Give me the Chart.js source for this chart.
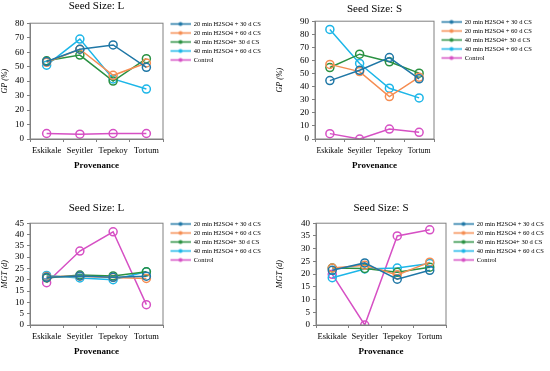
<!DOCTYPE html>
<html>
<head>
<meta charset="utf-8">
<script src="https://cdn.jsdelivr.net/npm/chart.js@4/dist/chart.umd.min.js"></script>
<style>
  body { margin: 0; background: #fff; width: 550px; height: 371px; position: relative; overflow: hidden; }
  canvas { position: absolute; }
</style>
</head>
<body>
<canvas id="gpL" width="275" height="185" style="left:0;top:0"></canvas>
<canvas id="gpS" width="275" height="185" style="left:275px;top:0"></canvas>
<canvas id="mgtL" width="275" height="186" style="left:0;top:185px"></canvas>
<canvas id="mgtS" width="275" height="186" style="left:275px;top:185px"></canvas>
<script>
const provenances = ['Eskikale', 'Seyitler', 'Tepekoy', 'Tortum'];
const treatments = ['20 min H2SO4 + 30 d CS', '20 min H2SO4 + 60 d CS', '40 min H2SO4+ 30 d CS', '40 min H2SO4 + 60 d CS', 'Control'];
const colors = ['#1f77a6', '#f58d52', '#2a9142', '#1cb6e8', '#d650c4'];

// GP (%), seed size L
const gpL_20_30 = [53.5, 62, 65, 49.5];
const gpL_20_60 = [53, 62, 44, 52.5];
const gpL_40_30 = [54, 58, 40, 55.5];
const gpL_40_60 = [51, 69, 41.5, 34.5];
const gpL_ctrl = [3.8, 3.3, 3.8, 3.8];

// GP (%), seed size S
const gpS_20_30 = [44.6, 52.5, 62.2, 46];
const gpS_20_60 = [57, 51.5, 32.4, 47.2];
const gpS_40_30 = [54.6, 64.8, 59, 50.3];
const gpS_40_60 = [83.7, 57.7, 38.8, 31.4];
const gpS_ctrl = [4.1, 0, 7.6, 5.1];

// MGT (d), seed size L
const mgtL_20_30 = [21.1, 21.7, 21.1, 21.6];
const mgtL_20_60 = [21.4, 21.6, 21, 20.6];
const mgtL_40_30 = [20.8, 22.1, 21.7, 23.5];
const mgtL_40_60 = [21.9, 20.8, 20, 23.5];
const mgtL_ctrl = [18.7, 32.7, 41.2, 9];

// MGT (d), seed size S
const mgtS_20_30 = [21.5, 24.4, 18, 21.5];
const mgtS_20_60 = [22.4, 23.5, 19.7, 24.7];
const mgtS_40_30 = [22.4, 22.2, 20.7, 22.7];
const mgtS_40_60 = [18.6, 22, 22.4, 24.2];
const mgtS_ctrl = [19.9, 0, 35, 37.4];

const serif = "'Liberation Serif', 'DejaVu Serif', serif";
const axisGray = '#808080';

function legendMark(color) {
    const c = document.createElement('canvas');
    c.width = 25; c.height = 7;
    const g = c.getContext('2d');
    g.strokeStyle = color; g.lineWidth = 1.5;
    g.beginPath(); g.moveTo(5, 3.5); g.lineTo(25, 3.5); g.stroke();
    g.fillStyle = color;
    g.beginPath(); g.arc(15, 3.5, 2, 0, Math.PI * 2); g.fill();
    return c;
}

const framePlugin = {
    id: 'frame',
    afterLayout(chart) {
        // pull the legend up to the top of the plot frame
        const lg = chart.legend;
        lg.top -= 5; lg.bottom -= 5;
    },
    afterDatasetsDraw(chart) {
        const a = chart.chartArea, ctx = chart.ctx;
        ctx.save();
        ctx.strokeStyle = axisGray; ctx.lineWidth = 1;
        ctx.strokeRect(a.left, a.top, a.right - a.left, a.bottom - a.top);
        ctx.restore();
    }
};

function makeChart(id, title, yTitle, yMax, yStep, series, lay) {
    const datasets = series.map((vals, i) => ({
        label: treatments[i],
        data: vals,
        borderColor: colors[i],
        backgroundColor: colors[i],
        borderWidth: 1.5,
        pointRadius: 4,
        pointBorderWidth: 1.5,
        pointBackgroundColor: 'rgba(0,0,0,0)',
        pointStyle: 'circle',
        tension: 0
    }));
    new Chart(document.getElementById(id), {
        type: 'line',
        data: { labels: provenances, datasets: datasets },
        plugins: [framePlugin],
        options: {
            responsive: false,
            animation: false,
            layout: { padding: { left: 0, right: lay.padRight, top: 0, bottom: lay.padBottom } },
            plugins: {
                title: {
                    display: true, text: title, color: '#000', fullSize: false,
                    font: { family: serif, size: 11, weight: 'normal' },
                    padding: { top: lay.titleTop, bottom: lay.titleBottom }
                },
                legend: {
                    position: 'right', align: 'start', fullSize: false, maxWidth: 102,
                    labels: {
                        color: '#000', font: { family: serif, size: 6.5 },
                        usePointStyle: true, pointStyleWidth: 25, padding: 2.5,
                        generateLabels: (chart) => chart.data.datasets.map((d, i) => ({
                            text: d.label, pointStyle: legendMark(colors[i]),
                            fillStyle: colors[i], strokeStyle: colors[i], lineWidth: 0, datasetIndex: i
                        }))
                    }
                },
                tooltip: { enabled: false }
            },
            scales: {
                x: {
                    offset: true,
                    border: { color: axisGray },
                    grid: { display: true, offset: true, drawOnChartArea: false, tickLength: 3, color: axisGray },
                    ticks: { autoSkip: false, color: '#000', font: { family: serif, size: lay.xFont }, padding: 4, maxRotation: 0 },
                    title: { display: true, text: 'Provenance', color: '#000', font: { family: serif, size: 9, weight: 'bold' }, padding: { top: 2, bottom: 0 } },
                    afterFit: (s) => { s.height = 32; }
                },
                y: {
                    min: 0, max: yMax,
                    border: { color: axisGray },
                    grid: { drawOnChartArea: false, tickLength: 3, color: axisGray },
                    ticks: { stepSize: yStep, autoSkip: false, color: '#000', font: { family: serif, size: 9 }, padding: 3 },
                    title: { display: true, text: yTitle, color: '#000', font: { family: serif, size: 8, style: 'italic' }, padding: { top: 0, bottom: 2 } },
                    afterFit: (s) => { s.width = lay.yWidth; }
                }
            }
        }
    });
}

makeChart('gpL', 'Seed Size: L', 'GP (%)', 80, 10,
    [gpL_20_30, gpL_20_60, gpL_40_30, gpL_40_60, gpL_ctrl],
    { yWidth: 30, padRight: 10, padBottom: 14, titleTop: 0, titleBottom: 10, xFont: 8.5 });
makeChart('gpS', 'Seed Size: S', 'GP (%)', 90, 10,
    [gpS_20_30, gpS_20_60, gpS_40_30, gpS_40_60, gpS_ctrl],
    { yWidth: 40, padRight: 14, padBottom: 14, titleTop: 3, titleBottom: 5, xFont: 7.8 });
makeChart('mgtL', 'Seed Size: L', 'MGT (d)', 45, 5,
    [mgtL_20_30, mgtL_20_60, mgtL_40_30, mgtL_40_60, mgtL_ctrl],
    { yWidth: 30, padRight: 10, padBottom: 14, titleTop: 17, titleBottom: 8, xFont: 8.5 });
makeChart('mgtS', 'Seed Size: S', 'MGT (d)', 40, 5,
    [mgtS_20_30, mgtS_20_60, mgtS_40_30, mgtS_40_60, mgtS_ctrl],
    { yWidth: 41, padRight: 2, padBottom: 14, titleTop: 17, titleBottom: 8, xFont: 8.5 });
</script>
</body>
</html>
